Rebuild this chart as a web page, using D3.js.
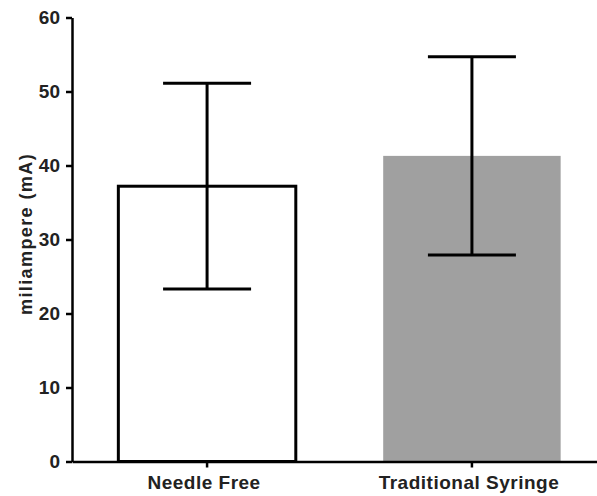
<!DOCTYPE html>
<html>
<head>
  <meta charset="utf-8">
  <title>Needle Free vs Traditional Syringe</title>
  <script type="text/javascript" src="https://cdnjs.cloudflare.com/ajax/libs/d3/7.8.5/d3.min.js"></script>
  <style type="text/css">
    body { margin: 0; background: #fff; }
    text { font-family: "Liberation Sans", Arial, sans-serif; font-weight: bold; fill: #222; }
  </style>
</head>
<body>
  <script type="text/javascript">

    // Data
    const groups = ["Needle Free", "Traditional Syringe"];
    const means = [37.2, 41.3];
    const errors = [13.9, 13.4];
    const yTicks = [0, 10, 20, 30, 40, 50, 60];
    const fills = ["#ffffff", "#a0a0a0"];

    // Width and height
    const w = 597;
    const h = 496;

    const svg = d3.select("body")
      .append("svg")
      .attr("width", w)
      .attr("height", h);

    // Scales
    const y = d3.scaleLinear().domain([0, 60]).range([461.5, 17.5]);
    const x = d3.scaleBand()
      .domain(groups)
      .range([72, 607])
      .paddingInner(0.33)
      .paddingOuter(0.175);

    // Bars
    svg.selectAll("rect.bar")
      .data(groups)
      .enter()
      .append("rect")
      .attr("class", "bar")
      .attr("x", d => x(d))
      .attr("y", (d, i) => y(means[i]))
      .attr("width", x.bandwidth())
      .attr("height", (d, i) => y(0) - y(means[i]))
      .attr("fill", (d, i) => fills[i])
      .attr("stroke", (d, i) => i === 0 ? "#000" : "none")
      .attr("stroke-width", 3);

    // Error bars
    const capW = 88;
    const eb = svg.selectAll("g.err")
      .data(groups)
      .enter()
      .append("g")
      .attr("class", "err")
      .attr("stroke", "#000")
      .attr("stroke-width", 3);

    eb.append("line")
      .attr("x1", d => x(d) + x.bandwidth() / 2)
      .attr("x2", d => x(d) + x.bandwidth() / 2)
      .attr("y1", (d, i) => y(means[i] - errors[i]))
      .attr("y2", (d, i) => y(means[i] + errors[i]));

    [-1, 1].forEach(function (s) {
      eb.append("line")
        .attr("x1", d => x(d) + x.bandwidth() / 2 - capW / 2)
        .attr("x2", d => x(d) + x.bandwidth() / 2 + capW / 2)
        .attr("y1", (d, i) => y(means[i] + s * errors[i]))
        .attr("y2", (d, i) => y(means[i] + s * errors[i]));
    });

    // Y axis
    const yAxis = svg.append("g")
      .attr("transform", "translate(72,0)")
      .call(d3.axisLeft(y).tickValues(yTicks).tickSize(6).tickPadding(6).tickSizeOuter(0));
    yAxis.select(".domain").attr("stroke-width", 2.5);
    yAxis.selectAll(".tick line").attr("stroke-width", 2.5);
    yAxis.selectAll("text").style("font-size", "19px").attr("fill", "#222");

    // X axis
    const xAxis = svg.append("g")
      .attr("transform", "translate(0," + y(0) + ")")
      .call(d3.axisBottom(x).tickSize(6).tickPadding(8).tickSizeOuter(0));
    xAxis.select(".domain").attr("stroke-width", 2.5);
    xAxis.selectAll(".tick line").attr("stroke-width", 2.5);
    xAxis.selectAll("text")
      .style("font-size", "19px")
      .style("letter-spacing", "0.5px")
      .attr("dx", -3)
      .attr("fill", "#222");

    // Y label
    svg.append("text")
      .attr("transform", "translate(32,234) rotate(-90)")
      .attr("text-anchor", "middle")
      .style("font-size", "18px")
      .style("letter-spacing", "1.4px")
      .text("miliampere (mA)");

  </script>
</body>
</html>
